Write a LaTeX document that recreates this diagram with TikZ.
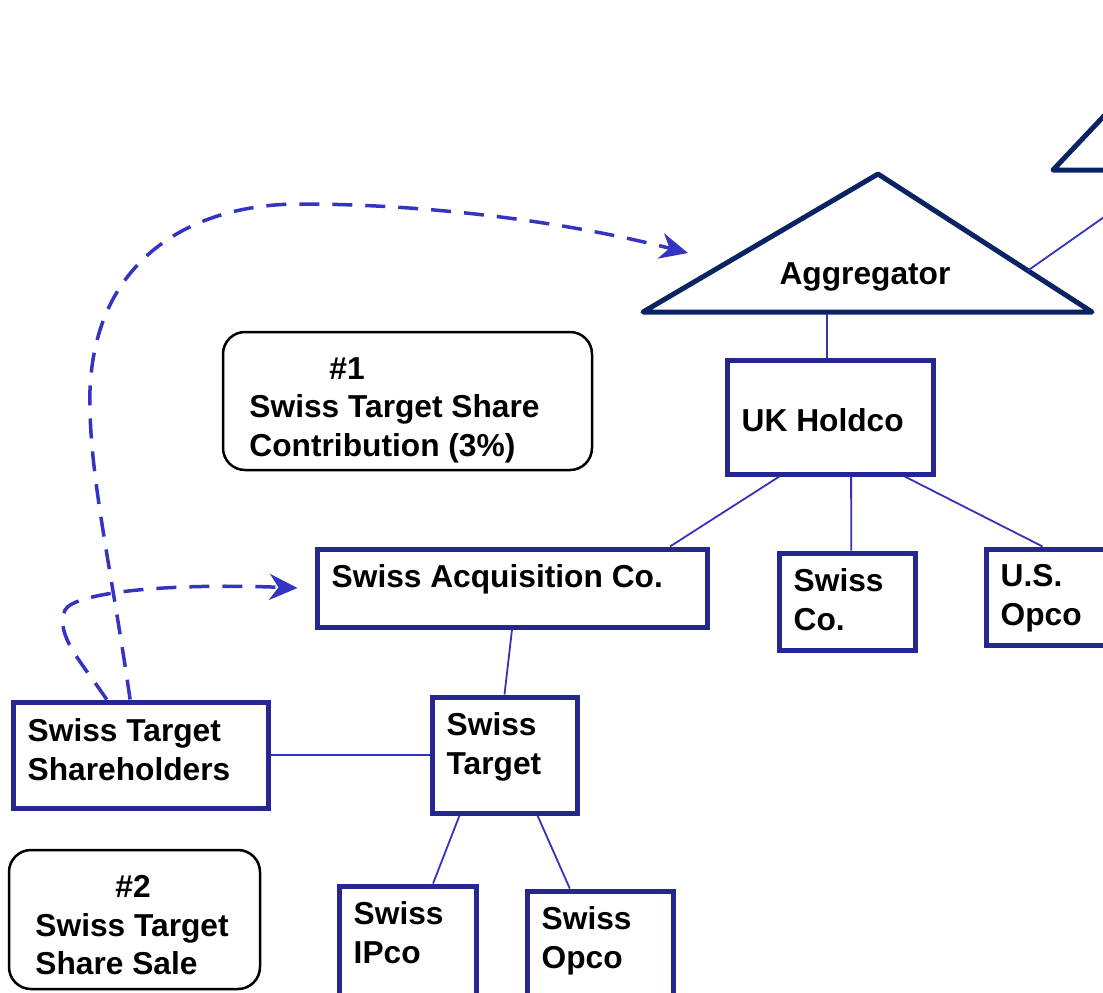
\documentclass[tikz,border=0pt]{standalone}
\usepackage{fontspec}
\setmainfont{Liberation Sans}
\usetikzlibrary{calc,arrows.meta}
\definecolor{trinavy}{HTML}{0A2463}
\definecolor{boxblue}{HTML}{262690}
\definecolor{linkblue}{HTML}{3333BB}
\definecolor{flowblue}{HTML}{3434C2}
\tikzset{
bigfont/.style={font=\fontsize{31.7}{38.5}\selectfont\bfseries},
cobox/.style={draw=boxblue, line width=5pt, rectangle, inner sep=0pt, fill=white},
cotext/.style={bigfont, anchor=north west, align=left, inner sep=0pt, xshift=17pt, yshift=-18pt},
note/.style={draw=black, line width=2.5pt, rounded corners=22pt, inner sep=0pt},
notetext/.style={bigfont, anchor=north west, align=left, inner sep=0pt, xshift=27.5pt, yshift=-26.5pt},
tri/.style={draw=trinavy, line width=5pt, line join=round, fill=white},
link/.style={draw=linkblue, line width=1.8pt},
flow/.style={draw=flowblue, line width=3.5pt, dash pattern=on 20pt off 13pt,
  -{Stealth[length=28pt,width=26pt,inset=9pt]}},
}
\begin{document}
\begin{tikzpicture}[x=1pt,y=-1pt]
\useasboundingbox (0,0) rectangle (1103,993);
\clip (0,0) rectangle (1103,993);
% triangles
\coordinate (aggleft) at (643,312);
\coordinate (aggtop) at (878,174);
\coordinate (aggright) at (1092,312);
\coordinate (aggbot) at (827,314);
\coordinate (aggin) at (688,253);
\coordinate (invbase) at (1171,170);
\draw[tri] (1300,170) -- (1053,170) -- (1153,64);
\draw[tri] (aggleft) -- (aggtop) -- (aggright) -- cycle;
\node[bigfont, anchor=base] (agg) at (865,284) {Aggregator};
% companies
\node[cobox, minimum width=206, minimum height=114, label={[cotext, yshift=-33pt]north west:UK Holdco}] (ukh) at (830,417) {};
\node[cobox, minimum width=390, minimum height=78, label={[cotext]north west:Swiss Acquisition Co.}] (sacq) at (512,588) {};
\node[cobox, minimum width=136, minimum height=97, label={[cotext]north west:Swiss\\Co.}] (swco) at (847,601.5) {};
\node[cobox, minimum width=134, minimum height=96, label={[cotext]north west:U.S.\\Opco}] (usop) at (1053,597) {};
\node[cobox, minimum width=145, minimum height=116, label={[cotext]north west:Swiss\\Target}] (swt) at (504.5,755) {};
\node[cobox, minimum width=255, minimum height=106, label={[cotext, yshift=-1pt]north west:Swiss Target\\Shareholders}] (sh) at (140.5,755) {};
\node[cobox, minimum width=137, minimum height=124, label={[cotext]north west:Swiss\\IPco}] (ipco) at (407.5,948) {};
\node[cobox, minimum width=146, minimum height=119, label={[cotext]north west:Swiss\\Opco}] (opco) at (600,950.5) {};
% steps
\node[note, minimum width=369, minimum height=138, label={[notetext]north west:\hspace*{80pt}\#1\\Swiss Target Share\\Contribution (3\%)}] (n1) at (407.5,401) {};
\node[note, minimum width=251, minimum height=139, label={[notetext]north west:\hspace*{80pt}\#2\\Swiss Target\\Share Sale}] (n2) at (134.5,919.5) {};
% ownership lines
\draw[link] (aggbot) -- (aggbot |- ukh.north);
\draw[link] ($(aggtop)!.7!(aggright)$) -- (invbase);
\draw[link] ($(ukh.south west)!.26!(ukh.south east)$) -- ($(sacq.north west)!.9!(sacq.north east)$);
\draw[link] ($(ukh.south west)!.6!(ukh.south east)$) -- ($(swco.north west)!.53!(swco.north east)$);
\draw[link] ($(ukh.south west)!.854!(ukh.south east)$) -- ($(usop.north west)!.425!(usop.north east)$);
\draw[link] (sacq.south) -- (swt.north);
\draw[link] (sh.east) -- (swt.west);
\draw[link] ($(swt.south west)!.2!(swt.south east)$) -- ($(ipco.north west)!.68!(ipco.north east)$);
\draw[link] ($(swt.south west)!.72!(swt.south east)$) -- ($(opco.north west)!.3!(opco.north east)$);
% transfers
\draw[flow] ($(sh.north west)!.46!(sh.north east)$) .. controls (110,560) and (88,470) .. (90,390)
  .. controls (95,260) and (190,204) .. (300,204)
  .. controls (420,204) and (560,220) .. (aggin);
\draw[flow] ($(sh.north west)!.37!(sh.north east)$) .. controls (80,660) and (55,635) .. (65,610)
  .. controls (75,592) and (170,583) .. ([xshift=-17pt]sacq.west);
\end{tikzpicture}
\end{document}
